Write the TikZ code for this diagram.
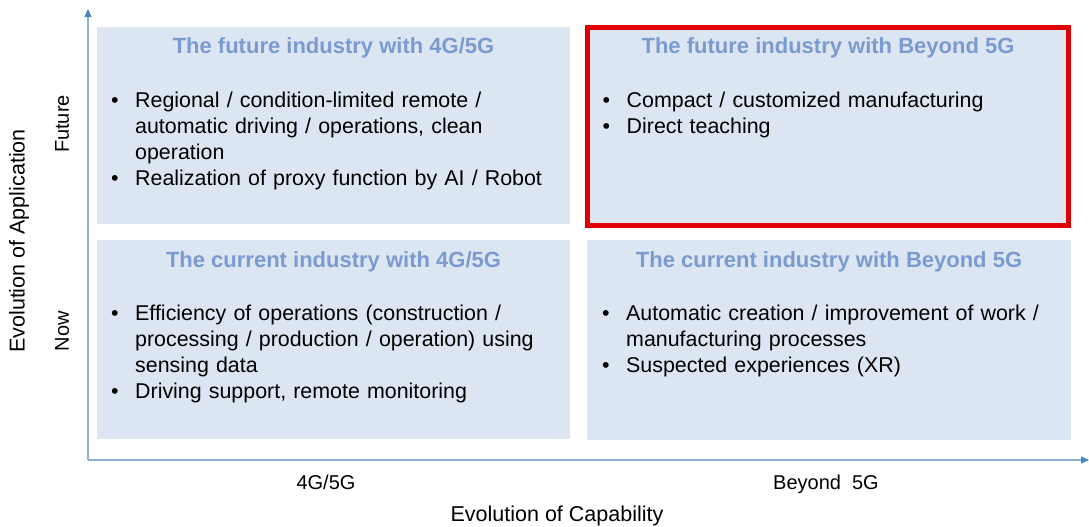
\documentclass[tikz,border=0pt]{standalone}
\usepackage{fontspec}
\setmainfont{Liberation Sans}
\usetikzlibrary{arrows.meta,positioning}
\definecolor{quadfill}{HTML}{DCE6F2}
\definecolor{headblue}{HTML}{7B9BD0}
\definecolor{axisblue}{HTML}{8DB0D4}
\definecolor{tipblue}{HTML}{4A86C5}
\definecolor{markred}{HTML}{E00000}
% bullet line with hanging indent (\newline for the wrapped lines)
\newcommand{\bitem}[1]{\noindent\hangindent=24pt\hangafter=1\makebox[24pt][l]{\textbullet}#1\par}
\tikzset{
  quad/.style={fill=quadfill, draw=none, inner sep=0pt, outer sep=0pt, anchor=north west},
  head/.style={font=\fontsize{22}{26}\selectfont\bfseries, text=headblue, anchor=base, inner sep=0pt},
  body/.style={font=\fontsize{21.4}{26}\selectfont, text width=455pt, anchor=base west, inner sep=0pt},
  axlabel/.style={font=\fontsize{20}{24}\selectfont, inner sep=0pt},
  axline/.style={axisblue, line width=1.2pt, -{Triangle[length=8pt,width=7pt,color=tipblue]}},
}
\begin{document}
\begin{tikzpicture}[x=1pt,y=-1pt]
    \useasboundingbox (0,0) rectangle (1089,527);
    % ejes
    \coordinate (orig) at (88,460);
    \coordinate (ytop) at (88,9);
    \coordinate (xend) at (1089,460);
    \draw[axline] (orig) -- (ytop);
    \draw[axline] (orig) -- (xend);
    % cuadrantes
    \node[quad, minimum width=473pt, minimum height=197pt] (fut4g) at (97,27) {};
    \node[quad, minimum width=473pt, minimum height=199pt] (cur4g) at (97,240) {};
    \node[quad, minimum width=484pt, minimum height=200pt] (curb5g) at (587,240) {};
    \node[quad, minimum width=481pt, minimum height=198pt, draw=markred, line width=4.5pt] (futb5g) at (587.5,27.5) {};
    % titulos
    \node[head] (fut4gh) at ([yshift=-26.5pt]fut4g.north) {The future industry with 4G/5G};
    \node[head] (futb5gh) at ([yshift=-26pt]futb5g.north) {The future industry with Beyond 5G};
    \node[head] (cur4gh) at ([yshift=-27pt]cur4g.north) {The current industry with 4G/5G};
    \node[head] (curb5gh) at ([yshift=-27pt]curb5g.north) {The current industry with Beyond 5G};
    % listas
    \node[body] (fut4gb) at ([xshift=14pt,yshift=-80pt]fut4g.north west)
      {\bitem{Regional / condition-limited remote /\newline automatic driving / operations, clean\newline operation}
       \bitem{Realization of proxy function by AI / Robot}};
    \node[body] (futb5gb) at ([xshift=15pt,yshift=-79.5pt]futb5g.north west)
      {\bitem{Compact / customized manufacturing}
       \bitem{Direct teaching}};
    \node[body] (cur4gb) at ([xshift=14pt,yshift=-80.5pt]cur4g.north west)
      {\bitem{Efficiency of operations (construction /\newline processing / production / operation) using\newline sensing data}
       \bitem{Driving support, remote monitoring}};
    \node[body] (curb5gb) at ([xshift=15pt,yshift=-80pt]curb5g.north west)
      {\bitem{Automatic creation / improvement of work /\newline manufacturing processes}
       \bitem{Suspected experiences (XR)}};
    % etiquetas de ejes
    \node[axlabel, rotate=90, font=\fontsize{21.5}{24}\selectfont] (apptitle) at (19,241) {Evolution of Application};
    \node[axlabel, rotate=90] (futlab) at (62,124) {Future};
    \node[axlabel, rotate=90] (nowlab) at (62,331) {Now};
    \node[axlabel, anchor=base] (lab4g) at (326,489) {4G/5G};
    \node[axlabel, anchor=base] (labb5g) at (826,489) {Beyond~~5G};
    \node[axlabel, anchor=base, font=\fontsize{21.5}{24}\selectfont] (captitle) at (557,521) {Evolution of Capability};
\end{tikzpicture}
\end{document}
